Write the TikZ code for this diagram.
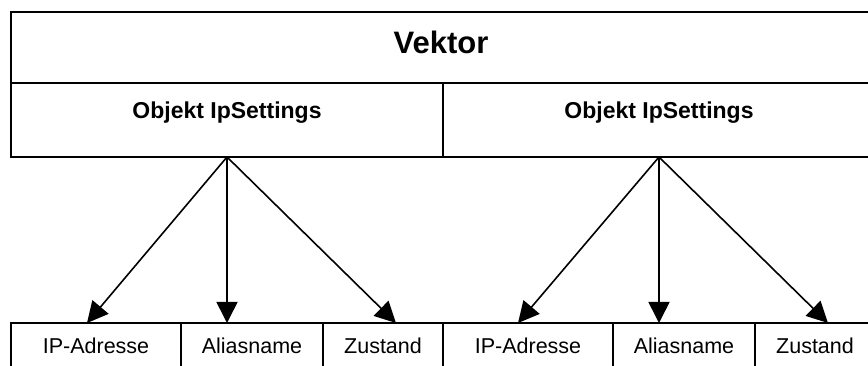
\documentclass[tikz,border=0pt]{standalone}
\usepackage{fontspec}
\setmainfont{Liberation Sans}
\usetikzlibrary{arrows.meta}
\begin{document}
\begin{tikzpicture}[x=1pt,y=-1pt,
  box/.style={draw, line width=1.6pt, inner sep=0pt, outer sep=0pt, rectangle},
  cell/.style={box, minimum height=45pt, text height=16pt, text depth=0pt, font=\fontsize{21.5}{24}\selectfont},
  titletext/.style={anchor=base, inner sep=0pt, font=\bfseries\fontsize{31}{36}\selectfont},
  subtext/.style={anchor=base, inner sep=0pt, font=\bfseries\fontsize{23}{27}\selectfont},
  arr/.style={line width=1.6pt, -{Triangle[length=21pt,width=21pt]}}
]
\useasboundingbox (0,0) rectangle (868,366);
\clip (0,0) rectangle (868,366);
% top boxes
\node[box, minimum width=864pt, minimum height=71pt] (vek) at (443,47.5) {};
\node[box, minimum width=432pt, minimum height=74pt] (ipa) at (227,120) {};
\node[box, minimum width=432pt, minimum height=74pt] (ipb) at (659,120) {};
\node[titletext] (vektxt) at (441,54) {Vektor};
\node[subtext] (ipatxt) at (227,119) {Objekt IpSettings};
\node[subtext] (ipbtxt) at (659,119) {Objekt IpSettings};
% bottom cells
\node[cell, minimum width=170pt] (ipadr1) at (96,345.5) {IP-Adresse};
\node[cell, minimum width=142pt] (alias1) at (252,345.5) {Aliasname};
\node[cell, minimum width=120pt] (zust1) at (383,345.5) {Zustand};
\node[cell, minimum width=170pt] (ipadr2) at (528,345.5) {IP-Adresse};
\node[cell, minimum width=142pt] (alias2) at (684,345.5) {Aliasname};
\node[cell, minimum width=120pt] (zust2) at (815,345.5) {Zustand};
% arrow targets
\coordinate (t1) at (87,323);
\coordinate (t2) at (227,323);
\coordinate (t3) at (396,323);
\coordinate (t4) at (518,323);
\coordinate (t5) at (659,323);
\coordinate (t6) at (828,323);
\draw[arr] (ipa.south) -- (t1);
\draw[arr] (ipa.south) -- (t2);
\draw[arr] (ipa.south) -- (t3);
\draw[arr] (ipb.south) -- (t4);
\draw[arr] (ipb.south) -- (t5);
\draw[arr] (ipb.south) -- (t6);
\end{tikzpicture}
\end{document}
